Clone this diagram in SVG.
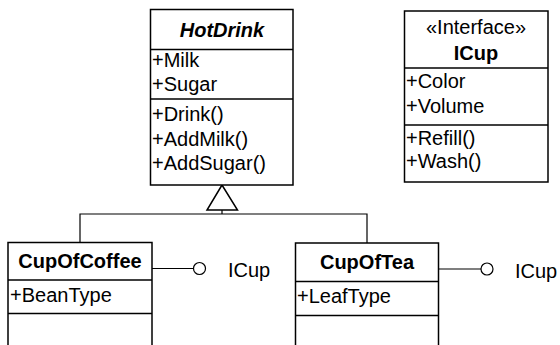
<svg xmlns="http://www.w3.org/2000/svg" width="560" height="345" viewBox="0 0 560 345">
<style>
.box{fill:#fff;stroke:#000;stroke-width:1.5}
.sep{stroke:#000;stroke-width:1.5}
.ln{fill:none;stroke:#000;stroke-width:1.2}
text{font-family:"Liberation Sans",Arial,sans-serif;font-size:20px;fill:#000}
.t{font-weight:bold;text-anchor:middle}
.c{text-anchor:middle}
</style>
<rect width="560" height="345" fill="#fff"/>
<g id="connectors">
<polyline class="ln" points="80,243 80,214 367,214 367,243"/>
<line class="ln" x1="222" y1="210" x2="222" y2="214"/>
<polygon points="222,185 207,210 237.5,210" fill="#fff" stroke="#000" stroke-width="1.5"/>
<line class="ln" x1="152" y1="268.5" x2="193.5" y2="268.5"/>
<circle cx="199.5" cy="268.5" r="6" fill="#fff" stroke="#000" stroke-width="1.2"/>
<line class="ln" x1="438" y1="269" x2="481" y2="269"/>
<circle cx="487" cy="269" r="6" fill="#fff" stroke="#000" stroke-width="1.2"/>
</g>
<g id="HotDrink">
<rect class="box" x="150.5" y="9.5" width="142.5" height="175.5"/>
<line class="sep" x1="150.5" y1="49.5" x2="293" y2="49.5"/>
<line class="sep" x1="150.5" y1="99" x2="293" y2="99"/>
<text class="t" x="222" y="37" font-style="italic">HotDrink</text>
<text x="152" y="67">+Milk</text>
<text x="152" y="91">+Sugar</text>
<text x="152" y="121">+Drink()</text>
<text x="152" y="146">+AddMilk()</text>
<text x="152" y="170">+AddSugar()</text>
</g>
<g id="ICupInterface">
<rect class="box" x="404.5" y="11" width="143.5" height="171"/>
<line class="sep" x1="404.5" y1="68" x2="548" y2="68"/>
<line class="sep" x1="404.5" y1="125" x2="548" y2="125"/>
<text class="c" x="476" y="34">«Interface»</text>
<text class="t" x="476" y="60">ICup</text>
<text x="406" y="88">+Color</text>
<text x="406" y="113">+Volume</text>
<text x="406" y="145">+Refill()</text>
<text x="406" y="168">+Wash()</text>
</g>
<g id="CupOfCoffee">
<rect class="box" x="8" y="242.5" width="144" height="110"/>
<line class="sep" x1="8" y1="280" x2="152" y2="280"/>
<line class="sep" x1="8" y1="313.5" x2="152" y2="313.5"/>
<text class="t" x="80" y="268">CupOfCoffee</text>
<text x="10" y="302">+BeanType</text>
</g>
<g id="CupOfTea">
<rect class="box" x="295.5" y="243" width="143" height="110"/>
<line class="sep" x1="295.5" y1="281.5" x2="438.5" y2="281.5"/>
<line class="sep" x1="295.5" y1="315.5" x2="438.5" y2="315.5"/>
<text class="t" x="367" y="269">CupOfTea</text>
<text x="297" y="303">+LeafType</text>
</g>
<g id="ICupLabels">
<text x="228" y="277">ICup</text>
<text x="515" y="278">ICup</text>
</g>
</svg>
